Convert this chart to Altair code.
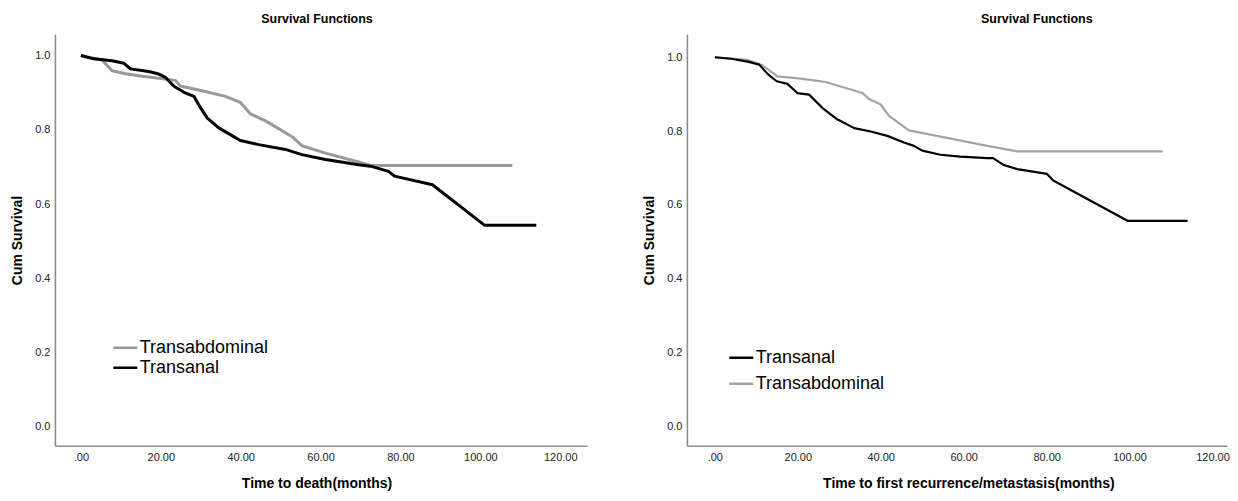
import altair as alt
import pandas as pd

# ---- Left panel: Time to death ----
left_anal_t = [0, 3.2, 7.8, 10.8, 12.4, 17, 19.5, 21.2, 23.3, 25.8, 28.3, 29.5, 31.6, 34.5, 37.4, 39.9,
               44.5, 51.2, 55.3, 61.2, 69.5, 72.5, 77, 78.5, 88, 101, 114]
left_anal_s = [1.0, 0.991, 0.986, 0.979, 0.964, 0.957, 0.950, 0.941, 0.917, 0.901, 0.890, 0.867, 0.832,
               0.805, 0.787, 0.771, 0.760, 0.747, 0.733, 0.720, 0.706, 0.702, 0.688, 0.675, 0.652, 0.543, 0.543]
left_abd_t = [0, 5.3, 7.8, 11.2, 15.3, 19.5, 23.7, 24.9, 30.3, 36.2, 39.9, 42.4, 46.2, 52.8, 55.3, 61.2,
              69.5, 72.5, 108]
left_abd_s = [1.0, 0.988, 0.959, 0.951, 0.944, 0.939, 0.933, 0.918, 0.905, 0.890, 0.874, 0.843, 0.824,
              0.782, 0.757, 0.737, 0.713, 0.704, 0.704]

# ---- Right panel: Time to first recurrence/metastasis ----
right_anal_t = [0, 3.9, 7.9, 10.7, 12.7, 14.9, 17.5, 19.9, 22.7, 25.9, 29.5, 33.6, 37.6, 41.6, 45.6, 48,
                50, 54.4, 59.2, 65.7, 67.1, 69.5, 72.9, 80.1, 81.6, 99.5, 114]
right_anal_s = [1.0, 0.996, 0.988, 0.980, 0.955, 0.935, 0.928, 0.903, 0.899, 0.863, 0.832, 0.808, 0.799,
                0.787, 0.769, 0.760, 0.747, 0.736, 0.731, 0.727, 0.727, 0.709, 0.697, 0.684, 0.666, 0.557, 0.557]
right_abd_t = [0, 7.9, 11.5, 15.1, 20.7, 26.7, 35.6, 37.2, 40, 42, 46.8, 65.7, 72.9, 108]
right_abd_s = [1.0, 0.993, 0.978, 0.948, 0.942, 0.933, 0.903, 0.887, 0.872, 0.841, 0.802, 0.760, 0.745, 0.745]

x_ticks = [0, 20, 40, 60, 80, 100, 120]
y_ticks = [0.0, 0.2, 0.4, 0.6, 0.8, 1.0]

FONT = "Liberation Sans"


def make_df(groups):
    rows = []
    for name, ts, ss in groups:
        for t, s in zip(ts, ss):
            rows.append({"group": name, "t": t, "s": s})
    return pd.DataFrame(rows)


def panel(df, order, colors, xdom, ydom, w, h, xtitle, title_dx, xtitle_x,
          legend_x, legend_y, row_pad, stroke_w):
    return alt.Chart(
        df,
        title=alt.TitleParams("Survival Functions", anchor="middle", frame="group",
                              fontSize=12.5, fontWeight="bold", font=FONT, color="#000000",
                              dx=title_dx, offset=9),
    ).mark_line(strokeWidth=stroke_w, strokeJoin="round").encode(
        x=alt.X("t:Q",
                scale=alt.Scale(domain=xdom, nice=False, zero=False),
                axis=alt.Axis(values=x_ticks,
                              labelExpr="datum.value == 0 ? '.00' : format(datum.value, '.2f')",
                              title=xtitle, titleX=xtitle_x, titlePadding=14,
                              labelPadding=6)),
        y=alt.Y("s:Q",
                scale=alt.Scale(domain=ydom, nice=False, zero=False),
                axis=alt.Axis(values=y_ticks, format=".1f", title="Cum Survival",
                              titlePadding=10, labelPadding=5)),
        color=alt.Color("group:N",
                        scale=alt.Scale(domain=order, range=colors),
                        legend=alt.Legend(title=None, orient="none", legendX=legend_x, legendY=legend_y,
                                          symbolType="stroke", symbolSize=576, symbolStrokeWidth=2.5,
                                          labelFontSize=18, labelFont=FONT, labelColor="#000000",
                                          labelOffset=1, rowPadding=row_pad, clipHeight=18)),
    ).properties(width=w, height=h)


left_df = make_df([("Transabdominal", left_abd_t, left_abd_s),
                   ("Transanal", left_anal_t, left_anal_s)])
right_df = make_df([("Transabdominal", right_abd_t, right_abd_s),
                    ("Transanal", right_anal_t, right_anal_s)])

left = panel(left_df, ["Transabdominal", "Transanal"], ["#999999", "#000000"],
             [-6.5, 126.7], [-0.051, 1.057], 533, 412, "Time to death(months)",
             -4, 262, 57, 305, 2, 3)
right = panel(right_df, ["Transanal", "Transabdominal"], ["#000000", "#a3a3a3"],
              [-6.74, 123.5], [-0.052, 1.062], 541, 412,
              "Time to first recurrence/metastasis(months)",
              80, 282, 41, 315, 8, 2.2)

chart = alt.hconcat(left, right, spacing=100, bounds="flush").resolve_scale(
    color="independent", x="independent", y="independent"
).resolve_legend(color="independent").properties(
    padding={"left": 2, "top": 4, "right": 0, "bottom": 0}
).configure_view(stroke=None).configure_axis(
    grid=False, ticks=False, domainColor="#8c8c8c", domainWidth=1.6,
    labelFont=FONT, labelFontSize=11, labelColor="#222222",
    titleFont=FONT, titleFontSize=14, titleFontWeight="bold", titleColor="#000000",
)

chart.save("out.html", embed_options={"renderer": "svg", "actions": False})
